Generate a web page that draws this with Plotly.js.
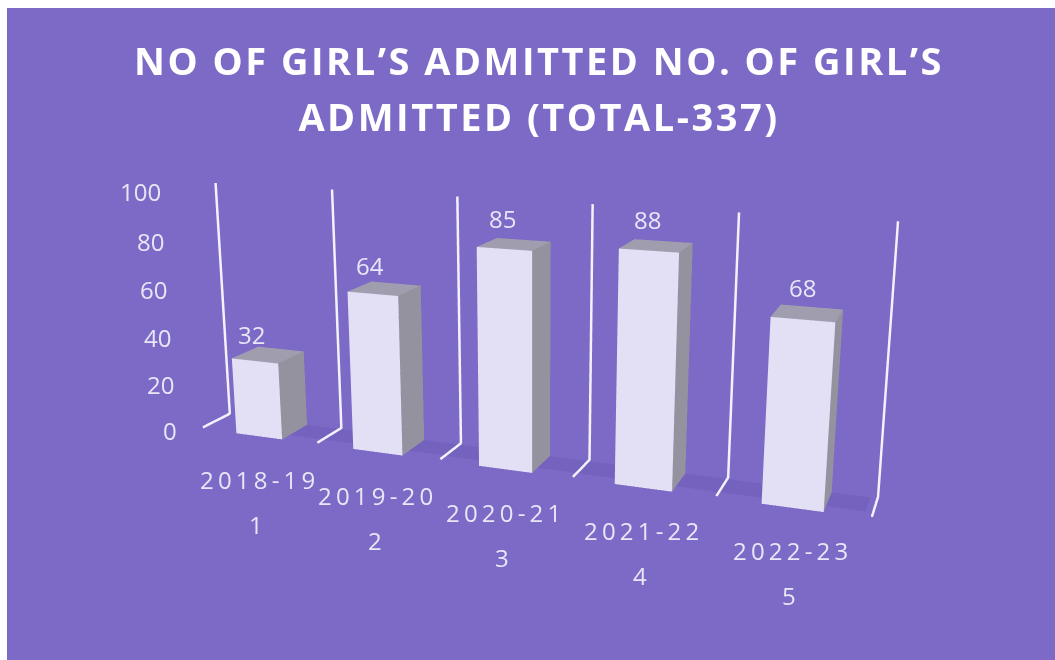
<!DOCTYPE html>
<html>
<head>
<meta charset="utf-8">
<script src="https://cdn.plot.ly/plotly-3.0.1.min.js"></script>
<style>
html,body{margin:0;padding:0;background:#fff;overflow:hidden;width:1055px;height:660px}
#frame{position:absolute;left:7px;top:8px;width:1048px;height:652px;overflow:hidden;background:#7D69C6}
#chart{position:absolute;left:-326px;top:-203px;width:1700px;height:1058px}
text[data-unformatted*="-1"],text[data-unformatted*="-2"]{letter-spacing:4.2px}
.gtitle{letter-spacing:2.5px}
</style>
</head>
<body>
<div id="frame"><div id="chart"></div></div>
<script>
var categories = ["2018-19","2019-20","2020-21","2021-22","2022-23"];
var serials = ["1","2","3","4","5"];
var girlsAdmitted = [32,64,85,88,68];
var valueTicks = [0,20,40,60,80,100];
var titleLines = ["NO OF GIRL\u2019S ADMITTED NO. OF GIRL\u2019S","ADMITTED (TOTAL-337)"];

var FRONT="#E3E0F5", TOP="#A09DAE", SIDE="#94929E", LINE="#F3F1FB", SHADOW="#7462BE", TXT="#E9E6F7";

var vx=[],vy=[],vz=[],fi=[],fj=[],fk=[],fc=[];
function quad(a,b,c,d,col){
  var n=vx.length;
  [a,b,c,d].forEach(function(p){vx.push(p[0]);vy.push(p[1]);vz.push(p[2]);});
  fi.push(n,n);fj.push(n+1,n+2);fk.push(n+2,n+3);fc.push(col,col);
}
quad([0.6,0.3,0],[4.95,0.3,0],[4.95,1,0],[0.6,1,0],SHADOW);
girlsAdmitted.forEach(function(v,i){
  var a=i+0.3,b=i+0.7;
  quad([a,0,0],[b,0,0],[b,0,v],[a,0,v],FRONT);
  quad([b,0,0],[b,1,0],[b,1,v],[b,0,v],SIDE);
  quad([a,0,v],[b,0,v],[b,1,v],[a,1,v],TOP);
});
var traces=[{type:"mesh3d",x:vx,y:vy,z:vz,i:fi,j:fj,k:fk,facecolor:fc,flatshading:true,
  lighting:{ambient:1,diffuse:0,specular:0,fresnel:0,roughness:1},hoverinfo:"skip",showscale:false}];
for(var k=0;k<=categories.length;k++){
  traces.push({type:"scatter3d",mode:"lines",x:[k,k,k],y:[0,1,1],z:[0.6,0.6,100],
    line:{color:LINE,width:5},hoverinfo:"skip",showlegend:false});
}
var ann=[];
valueTicks.forEach(function(t){
  ann.push({x:0,y:0,z:t,xanchor:"right",xshift:-24,yshift:-2,text:String(t),showarrow:false,font:{family:"Open Sans",size:24,color:TXT}});
});
girlsAdmitted.forEach(function(v,i){
  ann.push({x:i+0.5,y:0,z:v+11,xshift:-2,text:String(v),showarrow:false,font:{family:"Open Sans",size:24,color:TXT}});
  ann.push({x:i+0.5,y:0,z:0,yshift:-43,text:categories[i],showarrow:false,font:{family:"Open Sans",size:24,color:TXT}});
  ann.push({x:i+0.5,y:0,z:0,yshift:-88,xshift:-3,text:serials[i],showarrow:false,font:{family:"Open Sans",size:24,color:TXT}});
});
var span=function(s){return '<span style="font-size:38px">'+s+'</span>';};
var layout={
  width:1700,height:1058,margin:{l:0,r:0,t:0,b:0},
  paper_bgcolor:"rgba(0,0,0,0)",showlegend:false,
  title:{text:titleLines.map(span).join("<br>"),font:{family:"Open Sans",size:43,color:"#FFFFFF",weight:700},
    x:0.5047,xref:"container",xanchor:"center",y:0.7446,yref:"container",yanchor:"top"},
  scene:{
    bgcolor:"rgba(0,0,0,0)",domain:{x:[0,1],y:[0,1]},
    aspectmode:"manual",aspectratio:{x:0.986,y:0.072,z:0.364},
    camera:{eye:{x:0.6206,y:-1.578,z:0.4398},center:{x:0.0734,y:-0.130,z:0.0406},up:{x:0,y:0,z:1},projection:{type:"perspective"}},
    xaxis:{visible:false,range:[0,5],autorange:false},
    yaxis:{visible:false,range:[0,1],autorange:false},
    zaxis:{visible:false,range:[0,100],autorange:false},
    annotations:ann
  }
};
Plotly.newPlot("chart",traces,layout,{displayModeBar:false});
</script>
</body>
</html>
